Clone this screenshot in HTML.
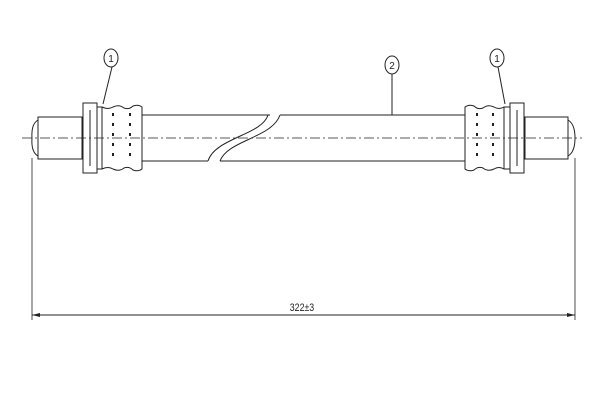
<!DOCTYPE html>
<html><head><meta charset="utf-8"><style>html,body{margin:0;padding:0;background:#fff}</style></head>
<body>
<svg width="600" height="400" viewBox="0 0 600 400" xmlns="http://www.w3.org/2000/svg" font-family="Liberation Sans, sans-serif">
<rect width="600" height="400" fill="#fff"/>
<g fill="none" stroke="#222" stroke-width="1">
<line x1="22" y1="138" x2="582" y2="138" stroke-dasharray="10,3,2,3" stroke-width="0.8"/>
<line x1="142" y1="115" x2="270" y2="115"/>
<line x1="280" y1="115" x2="465" y2="115"/>
<line x1="142" y1="161" x2="208" y2="161"/>
<line x1="220" y1="161" x2="465" y2="161"/>
<path d="M268 115 C262 135 215 138 208 161"/>
<path d="M280 115 C272 138 228 140 220 161"/>
<path d="M38 117 L82 117 L82 159 L38 159 Z"/>
<path d="M38 120 Q31 124 32 138 Q31 152 38 156"/>
<rect x="83" y="103" width="14" height="70"/>
<line x1="90" y1="110" x2="90" y2="166"/>
<rect x="97" y="107" width="5" height="62"/>
<path d="M102 107 Q108 110 113 107 Q119 104 124 108 Q129 110 133 106 Q138 104 142 107 L142 169 Q138 172 133 170 Q129 166 124 168 Q119 172 113 169 Q108 166 102 169"/>
<line x1="113" y1="113" x2="113" y2="163" stroke-dasharray="3,7" stroke-width="2"/>
<line x1="130" y1="113" x2="130" y2="163" stroke-dasharray="3,7" stroke-width="2"/>
<path d="M525 117 L568 117 L568 159 L525 159 Z"/>
<path d="M568 120 Q575 124 575 138 Q575 152 568 156"/>
<rect x="510" y="103" width="14" height="70"/>
<line x1="517" y1="110" x2="517" y2="166"/>
<rect x="504" y="107" width="6" height="62"/>
<path d="M504 107 Q499 110 494 107 Q488 104 483 108 Q478 110 474 106 Q469 104 465 107 L465 169 Q469 172 474 170 Q478 166 483 168 Q488 172 494 169 Q499 166 504 169"/>
<line x1="477" y1="113" x2="477" y2="163" stroke-dasharray="3,7" stroke-width="2"/>
<line x1="493" y1="113" x2="493" y2="163" stroke-dasharray="3,7" stroke-width="2"/>
<ellipse cx="111" cy="58" rx="7" ry="9"/>
<line x1="112" y1="67" x2="103" y2="104"/>
<ellipse cx="497" cy="58" rx="7" ry="9"/>
<line x1="498" y1="67" x2="505" y2="104"/>
<ellipse cx="392" cy="65" rx="7" ry="9"/>
<line x1="392" y1="74" x2="392" y2="115"/>
<line x1="32" y1="158" x2="32" y2="320" stroke-width="0.8"/>
<line x1="575" y1="158" x2="575" y2="320" stroke-width="0.8"/>
<line x1="32" y1="315" x2="575" y2="315"/>
</g>
<path d="M32 315 L40 313 L40 317 Z M575 315 L567 313 L567 317 Z" fill="#222"/>
<g fill="#222" font-size="10" text-anchor="middle">
<text x="111" y="62">1</text>
<text x="497" y="62">1</text>
<text x="392" y="69">2</text>
<text x="302" y="311" transform="translate(302 0) scale(0.8 1) translate(-302 0)" font-size="11">322±3</text>
</g>
</svg>
</body></html>
